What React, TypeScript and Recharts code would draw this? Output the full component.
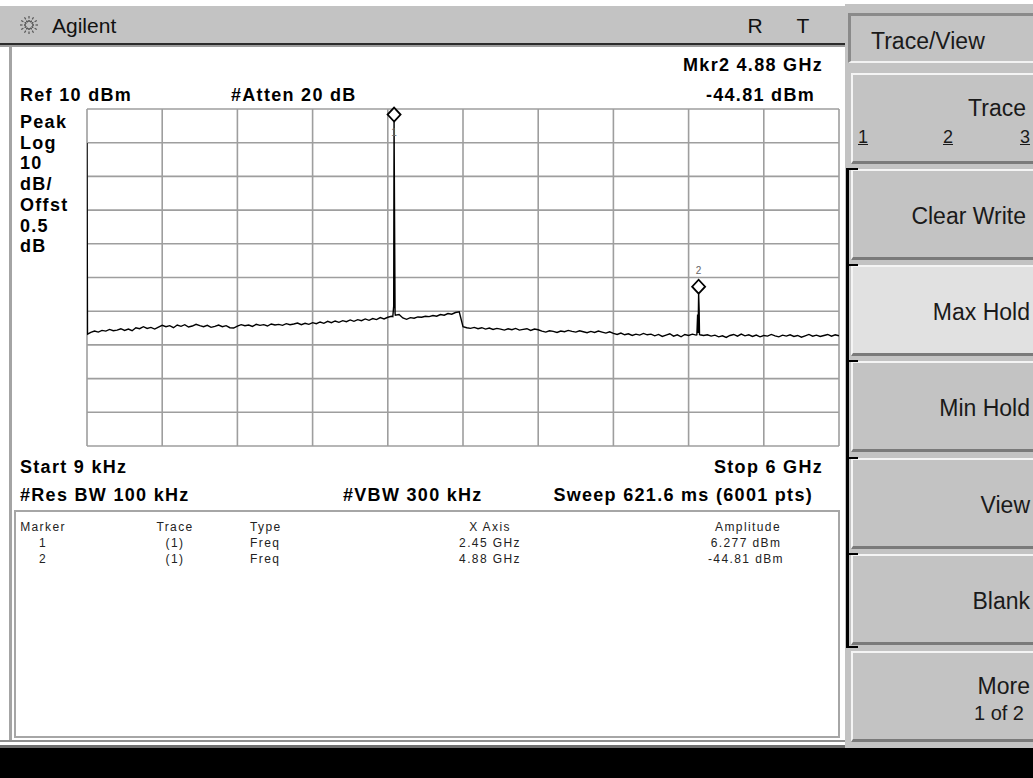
import { LineChart, Line, XAxis, YAxis, CartesianGrid, ReferenceDot } from "recharts";

// sweep: 9 kHz .. 6 GHz, trace sampled every 30 MHz
const SWEEP_STEP_GHZ = 0.03;
const BAND_SPLIT_GHZ = 3.0;

// LO feedthrough at the very start of the sweep
const LO_FREQ = [0.000009, 0.004];
const LO_DBM = [-0.1, -56.8];

// 0.03 .. 2.97 GHz
const LOW_BAND_DBM = [
  -56.3, -55.9, -56.2, -55.7, -55.9, -55.4, -55.8, -55.6, -55.2, -55.7,
  -55.3, -55.8, -54.9, -55.2, -54.6, -55.1, -54.8, -55.3, -54.7, -54.2,
  -54.6, -54.3, -54.9, -54.1, -54.5, -54.0, -54.7, -54.4, -53.9, -54.3,
  -54.6, -54.2, -54.8, -54.5, -54.1, -54.6, -54.3, -54.9, -55.0, -54.4,
  -54.0, -54.3, -54.1, -54.5, -53.9, -54.2, -54.0, -54.4, -53.8, -54.1,
  -53.9, -54.2, -53.7, -54.0, -53.8, -53.5, -54.0, -53.6, -53.9, -53.4,
  -53.7, -53.2, -53.6, -53.0, -53.4, -52.9, -53.3, -52.8, -53.1, -52.6,
  -53.0, -52.5, -52.8, -52.3, -52.7, -52.2, -52.5, -51.9, -52.3, -51.8,
  -51.5,
  -51.2, -51.0, -52.0, -52.4, -51.9, -52.1, -51.7, -51.8, -51.5, -51.6,
  -51.3, -51.5, -51.0, -51.2, -50.7, -50.9, -50.4, -50.2,
];

// 3.00 .. 6.00 GHz
const HIGH_BAND_DBM = [
  -54.6, -54.9, -55.1, -54.8, -55.2, -54.9, -55.3, -55.0, -55.4, -55.1,
  -55.3, -55.6, -55.2, -55.5, -55.1, -55.6, -55.4, -55.2, -55.7, -55.3,
  -55.5, -55.9, -56.2, -55.8, -56.0, -56.3, -55.9, -56.1, -55.7, -56.0,
  -56.2, -55.8, -56.1, -56.4, -56.0, -56.3, -55.9, -56.2, -56.5, -56.1,
  -56.6, -56.9, -56.5, -57.0, -56.7, -57.2, -56.8, -57.1, -56.6, -57.0,
  -56.8, -57.3, -56.9, -57.5, -57.1, -56.7, -57.4, -57.0, -57.6, -56.9,
  -57.2, -56.8, -57.1,
  -57.0, -57.2, -57.0, -57.4, -57.1, -57.6, -57.3, -57.8, -57.2, -56.9,
  -57.4, -56.8, -57.3, -57.0, -57.5, -57.1, -57.6, -57.2, -57.4, -56.9,
  -57.3, -57.6, -57.1, -57.4, -57.0, -57.5, -57.2, -57.7, -57.3, -56.9,
  -57.4, -57.1, -57.5, -57.2, -56.9, -57.4, -57.0, -57.3,
];

// carrier at 2.45 GHz and its spur at 4.88 GHz
const PEAK1_FREQ = [2.44, 2.447, 2.45, 2.454, 2.458];
const PEAK1_DBM = [-51.6, -48.5, 6.277, -23.0, -50.6];
const PEAK2_FREQ = [4.866, 4.872, 4.876, 4.88, 4.884, 4.887];
const PEAK2_DBM = [-57.0, -51.0, -56.5, -44.81, -49.5, -56.9];

const FREQ_TICKS = [0, 0.6, 1.2, 1.8, 2.4, 3.0, 3.6, 4.2, 4.8, 5.4, 6.0];
const DBM_TICKS = [-90, -80, -70, -60, -50, -40, -30, -20, -10, 0, 10];

const MARKER_FREQ = [2.45, 4.88];
const MARKER_DBM = [6.277, -44.81];
const MARKER_ID = ["1", "2"];
const MARKER_TRACE = ["(1)", "(1)"];
const MARKER_TYPE = ["Freq", "Freq"];
const MARKER_X_TEXT = ["2.45 GHz", "4.88 GHz"];
const MARKER_AMP_TEXT = ["6.277 dBm", "-44.81 dBm"];

const SIDE_LABELS = ["Peak", "Log", "10", "dB/", "Offst", "0.5", "dB"];
const GROUP_KEYS = ["Clear Write", "Max Hold", "Min Hold", "View", "Blank"];

const trace = [
  ...LO_FREQ.map((f, i) => ({ f, dbm: LO_DBM[i] })),
  ...LOW_BAND_DBM.map((v, i) => ({ f: (i + 1) * SWEEP_STEP_GHZ, dbm: v })),
  ...HIGH_BAND_DBM.map((v, i) => ({ f: BAND_SPLIT_GHZ + i * SWEEP_STEP_GHZ, dbm: v })),
  ...PEAK1_FREQ.map((f, i) => ({ f, dbm: PEAK1_DBM[i] })),
  ...PEAK2_FREQ.map((f, i) => ({ f, dbm: PEAK2_DBM[i] })),
].sort((a, b) => a.f - b.f);

const SANS = "'Liberation Sans', Arial, sans-serif";
const PANEL = "#c3c3c3";
const BOLD = { fontFamily: SANS, fontWeight: 700, fontSize: 18, letterSpacing: 1.3, color: "#000" };
const KEY = { fontFamily: SANS, fontSize: 23, color: "#1a1a1a" };
const TABLE = { fontFamily: SANS, fontSize: 12, letterSpacing: 1.4, color: "#222" };

const T = ({ x, y, align = "left", style, children }: any) => {
  const tx = align === "left" ? "0" : align === "center" ? "-50%" : "-100%";
  return (
    <div
      style={{
        position: "absolute", left: x, top: y, transform: `translate(${tx}, -50%)`,
        whiteSpace: "nowrap", lineHeight: 1, ...style,
      }}
    >
      {children}
    </div>
  );
};

const Box = ({ x, y, w, h, style }: any) => (
  <div style={{ position: "absolute", left: x, top: y, width: w, height: h, boxSizing: "border-box", ...style }} />
);

// marker diamond sits on top of the trace point
const markerShape = (id: string) => (props: any) => {
  const { cx, cy } = props;
  const hw = 6.5;
  const h = 14;
  return (
    <g>
      <polygon
        points={`${cx},${cy} ${cx + hw},${cy - h / 2} ${cx},${cy - h} ${cx - hw},${cy - h / 2}`}
        fill="#fff" stroke="#000" strokeWidth={1.8}
      />
      {id === "1" ? (
        <text x={cx} y={cy + 14} textAnchor="middle" fontSize={10} fill="#666" fontFamily={SANS}>{id}</text>
      ) : (
        <text x={cx} y={cy - h - 6} textAnchor="middle" fontSize={10} fill="#666" fontFamily={SANS}>{id}</text>
      )}
    </g>
  );
};

const Logo = () => (
  <svg width={24} height={20} style={{ position: "absolute", left: 17, top: 15 }}>
    {[0, 30, 60, 90, 120, 150, 180, 210, 240, 270, 300, 330].map((a) => (
      <g key={a} transform={`translate(12,10) rotate(${a})`}>
        <rect x={3} y={-0.6} width={2} height={1.2} fill="#333" />
        <rect x={6.5} y={-0.6} width={2.5} height={1.2} fill="#555" />
      </g>
    ))}
  </svg>
);

export default function App() {
  return (
    <div style={{ position: "absolute", left: 0, top: 0, width: 1033, height: 778, background: "#fff", overflow: "hidden" }}>
      {/* title bar */}
      <Box x={0} y={6} w={847} h={37} style={{ background: PANEL }} />
      <Box x={0} y={43} w={847} h={2} style={{ background: "#2b2b2b" }} />
      <Box x={0} y={45} w={845} h={2} style={{ background: "#9d9d9d" }} />
      <Logo />
      <T x={52} y={25} style={{ fontFamily: SANS, fontSize: 21, color: "#111" }}>Agilent</T>
      <T x={755} y={25} align="center" style={{ fontFamily: SANS, fontSize: 21, color: "#111" }}>R</T>
      <T x={803} y={25} align="center" style={{ fontFamily: SANS, fontSize: 21, color: "#111" }}>T</T>

      {/* main panel frame */}
      <Box x={9} y={47} w={3} h={695} style={{ background: "#a4a4a4" }} />
      <Box x={0} y={740} w={845} h={2} style={{ background: "#8e8e8e" }} />
      <Box x={0} y={745} w={1033} h={3} style={{ background: "#6e6e6e" }} />
      <Box x={0} y={748} w={1033} h={30} style={{ background: "#000" }} />

      {/* annotations */}
      <T x={823} y={65} align="right" style={BOLD}>Mkr2  4.88 GHz</T>
      <T x={20} y={95} style={BOLD}>Ref 10 dBm</T>
      <T x={231} y={95} style={BOLD}>#Atten 20 dB</T>
      <T x={815} y={95} align="right" style={BOLD}>-44.81 dBm</T>
      {SIDE_LABELS.map((s, i) => (
        <T key={i} x={20} y={122 + i * 20.7} style={BOLD}>{s}</T>
      ))}
      <T x={20} y={467} style={BOLD}>Start 9 kHz</T>
      <T x={823} y={467} align="right" style={BOLD}>Stop 6 GHz</T>
      <T x={20} y={495} style={BOLD}>#Res BW 100 kHz</T>
      <T x={343} y={495} style={BOLD}>#VBW 300 kHz</T>
      <T x={813} y={495} align="right" style={BOLD}>Sweep 621.6 ms (6001 pts)</T>

      {/* spectrum */}
      <div style={{ position: "absolute", left: 83, top: 105 }}>
        <LineChart width={760} height={345} data={trace} margin={{ top: 4, right: 4, bottom: 4, left: 4 }}>
          <CartesianGrid stroke="#9e9e9e" strokeWidth={1.6} />
          <XAxis type="number" dataKey="f" domain={[0, 6]} ticks={FREQ_TICKS} allowDataOverflow hide />
          <YAxis type="number" domain={[-90, 10]} ticks={DBM_TICKS} allowDataOverflow hide />
          <Line
            type="linear" dataKey="dbm" stroke="#000" strokeWidth={1.4}
            dot={false} isAnimationActive={false}
          />
          {MARKER_ID.map((id, i) => (
            <ReferenceDot key={id} x={MARKER_FREQ[i]} y={MARKER_DBM[i]} r={0} shape={markerShape(id)} />
          ))}
        </LineChart>
      </div>

      {/* marker table */}
      <Box x={14} y={510} w={826} h={228} style={{ border: "2px solid #a6a6a6" }} />
      <T x={43} y={527} align="center" style={TABLE}>Marker</T>
      <T x={175} y={527} align="center" style={TABLE}>Trace</T>
      <T x={250} y={527} style={TABLE}>Type</T>
      <T x={490} y={527} align="center" style={TABLE}>X Axis</T>
      <T x={748} y={527} align="center" style={TABLE}>Amplitude</T>
      {MARKER_ID.map((id, i) => (
        <div key={id}>
          <T x={43} y={543 + i * 16} align="center" style={TABLE}>{id}</T>
          <T x={175} y={543 + i * 16} align="center" style={TABLE}>{MARKER_TRACE[i]}</T>
          <T x={250} y={543 + i * 16} style={TABLE}>{MARKER_TYPE[i]}</T>
          <T x={490} y={543 + i * 16} align="center" style={TABLE}>{MARKER_X_TEXT[i]}</T>
          <T x={746} y={543 + i * 16} align="center" style={TABLE}>{MARKER_AMP_TEXT[i]}</T>
        </div>
      ))}

      {/* softkeys */}
      <Box x={845} y={4} w={188} h={744} style={{ background: PANEL }} />
      <Box x={848} y={13} w={190} h={50} style={{ borderTop: "3px solid #8a8a8a", borderLeft: "3px solid #8a8a8a", borderBottom: "2px solid #f2f2f2" }} />
      <T x={871} y={41} style={KEY}>Trace/View</T>

      <Box x={851} y={73} w={190} h={91} style={{ background: PANEL, borderTop: "2px solid #f4f4f4", borderLeft: "2px solid #f4f4f4", borderBottom: "3px solid #7a7a7a" }} />
      <T x={1026} y={108} align="right" style={KEY}>Trace</T>
      <T x={858} y={137} style={{ ...KEY, fontSize: 18, textDecoration: "underline" }}>1</T>
      <T x={943} y={137} style={{ ...KEY, fontSize: 18, textDecoration: "underline" }}>2</T>
      <T x={1020} y={137} style={{ ...KEY, fontSize: 18, textDecoration: "underline" }}>3</T>

      {GROUP_KEYS.map((k, i) => (
        <div key={k}>
          <Box
            x={851} y={169 + i * 96.2} w={190} h={91}
            style={{
              background: k === "Max Hold" ? "#e1e1e1" : PANEL,
              borderTop: "2px solid #f4f4f4", borderLeft: "2px solid #f4f4f4", borderBottom: "3px solid #7a7a7a",
            }}
          />
          <T x={k === "Clear Write" ? 1026 : 1030} y={216 + i * 96.2} align="right" style={KEY}>{k}</T>
          <Box x={846} y={168 + i * 96.2} w={12} h={2} style={{ background: "#000" }} />
        </div>
      ))}
      <Box x={846} y={168} w={3} h={480} style={{ background: "#000" }} />
      <Box x={846} y={646} w={12} h={2} style={{ background: "#000" }} />

      <Box x={851} y={651} w={190} h={91} style={{ background: PANEL, borderTop: "2px solid #f4f4f4", borderLeft: "2px solid #f4f4f4", borderBottom: "3px solid #7a7a7a" }} />
      <T x={1030} y={686} align="right" style={KEY}>More</T>
      <T x={1024} y={713} align="right" style={{ ...KEY, fontSize: 20 }}>1 of 2</T>
    </div>
  );
}
